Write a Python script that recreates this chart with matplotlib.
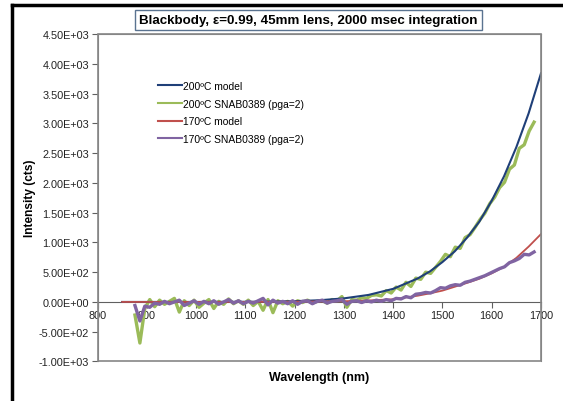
import matplotlib.pyplot as plt
from matplotlib.patches import Rectangle
from matplotlib.lines import Line2D
import numpy as np

plt.rcParams['font.family'] = ['Liberation Sans', 'DejaVu Sans']

# model curves (nm, counts)
model_wl = [850, 900, 950, 1000, 1050, 1100, 1150, 1200, 1250, 1300, 1350, 1400,
            1450, 1475, 1500, 1525, 1550, 1575, 1600, 1625, 1650, 1675, 1700]
model_200 = [0, 0, 0, 0, 1, 2, 5, 13, 28, 60, 118, 220,
             395, 515, 670, 850, 1080, 1350, 1700, 2110, 2600, 3170, 3840]
model_170 = [0, 0, 0, 0, 0, 1, 2, 5, 8, 12, 25, 45,
             105, 145, 190, 255, 320, 390, 480, 590, 740, 930, 1140]

# measured spectra, SNAB0389 at pga=2
data_wl = list(range(876, 1687, 10))
data_200 = [-220, -690, -110, 40, -80, 30, -40, 10, 60, -170,
            20, -60, 30, -90, -20, 40, -110, 10, -40, 50,
            -30, 20, -40, 30, -60, 10, -140, 40, -180, 20,
            -30, 10, -70, 20, -10, 30, -20, 10, 20, -20,
            40, 20, 90, -90, 40, 30, 70, 60, 110, 120,
            100, 190, 150, 250, 200, 330, 260, 400, 380, 500,
            480, 580, 680, 800, 760, 920, 900, 1080, 1130, 1250,
            1380, 1490, 1650, 1760, 1920, 2010, 2230, 2300, 2580, 2640,
            2870, 3020]
data_170 = [-60, -320, -70, -90, -20, -40, 10, -30, 0, 30,
            -60, -20, 20, -40, 10, -30, 20, -40, 0, 40,
            -20, 20, -30, 10, -20, 20, 60, -50, 30, -20,
            10, -30, 20, -40, 10, 20, -30, 10, 30, -20,
            10, 20, 40, -40, 10, 20, -10, 20, 0, 30,
            10, 40, 20, 60, 50, 90, 70, 130, 140, 160,
            150, 190, 240, 230, 270, 290, 280, 330, 350, 380,
            410, 440, 480, 520, 560, 590, 660, 690, 730, 800,
            790, 840]

labels = ['200ºC model', '200ºC SNAB0389 (pga=2)', '170ºC model', '170ºC SNAB0389 (pga=2)']
colors = ['#1F3F78', '#9BBB59', '#C0504D', '#8064A2']
yticks = np.arange(-1000, 4501, 500)


def sci(v):
    # Excel style 0.00E+00 labels
    if v == 0:
        return '0.00E+00'
    e = int(np.floor(np.log10(abs(v))))
    return '%.2fE+%02d' % (v / 10 ** e, e)


fig = plt.figure(figsize=(5.63, 4.02), dpi=100)
ax = fig.add_axes([0.1732, 0.0983, 0.7877, 0.8146])

ax.plot(model_wl, model_200, color=colors[0], lw=1.5, label=labels[0], zorder=3)
ax.plot(data_wl, data_200, color=colors[1], lw=2.4, label=labels[1], zorder=2)
ax.plot(model_wl, model_170, color=colors[2], lw=1.3, label=labels[2], zorder=3)
ax.plot(data_wl, data_170, color=colors[3], lw=2.4, label=labels[3], zorder=4)

ax.set_xlim(800, 1700)
ax.set_ylim(-1000, 4500)
ax.set_xticks(range(800, 1701, 100))
ax.set_yticks(yticks)
ax.set_yticklabels([sci(v) for v in yticks])

# x axis crosses at zero, plot area keeps a gray box
gray = '#868686'
ax.spines['bottom'].set_position(('data', 0))
ax.spines['bottom'].set_color('#606060')
for s in ['left', 'top', 'right']:
    ax.spines[s].set_color(gray)
ax.add_patch(Rectangle((0, 0), 1, 1, transform=ax.transAxes, fill=False,
                       ec=gray, lw=1.2, clip_on=False, zorder=5))
ax.tick_params(axis='both', colors='#606060', labelcolor='#222222', labelsize=7.8, length=4)
ax.tick_params(axis='x', pad=2)
ax.tick_params(axis='y', pad=2)

ax.set_ylabel('Intensity (cts)', fontsize=8.6, fontweight='bold')
ax.yaxis.set_label_coords(-0.139, 0.5)
ax.set_xlabel('Wavelength (nm)', fontsize=9, fontweight='bold')
ax.xaxis.set_label_coords(0.5, -0.03)

leg = ax.legend(loc='upper left', bbox_to_anchor=(0.115, 0.885), frameon=False,
                fontsize=7.4, handlelength=2.4, handletextpad=0.05, labelspacing=0.75)
for line in leg.get_lines():
    line.set_linewidth(1.5)

fig.text(0.548, 0.947, 'Blackbody, \u03b5=0.99, 45mm lens, 2000 msec integration',
         ha='center', va='center', fontsize=9.6, fontweight='bold',
         bbox=dict(boxstyle='square,pad=0.3', fc='white', ec='#5a7390', lw=1))

# outer black frame, left and top edges
x0 = 12 / 563
y0 = 1 - 5.5 / 402
fig.add_artist(Line2D([x0, x0], [0, y0], transform=fig.transFigure, color='black', lw=2.5))
fig.add_artist(Line2D([x0, 1], [y0, y0], transform=fig.transFigure, color='black', lw=2.5))

fig.savefig('out.png', dpi=100)
